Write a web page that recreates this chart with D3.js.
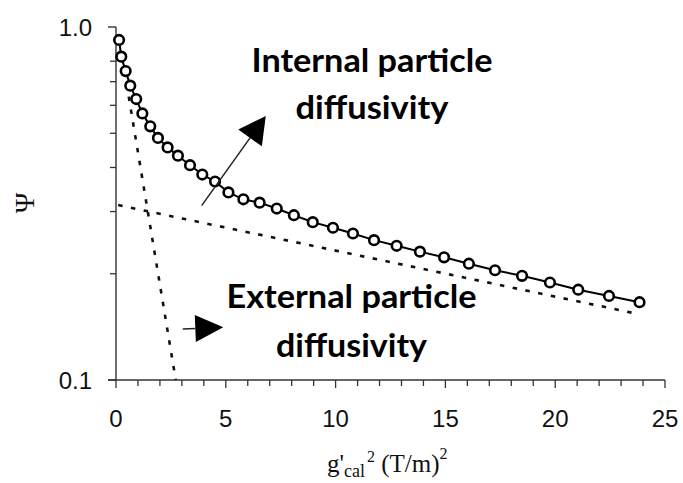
<!DOCTYPE html>
<html>
<head>
<meta charset="utf-8">
<script src="https://cdn.jsdelivr.net/npm/d3@7"></script>
<style>
  html, body { margin: 0; padding: 0; background: #fff; }
  svg { display: block; }
</style>
</head>
<body>
<svg id="chart" width="683" height="483"></svg>
<script>
// ---- data ----
const gSquared = [0.14, 0.24, 0.44, 0.65, 0.92, 1.20, 1.56, 1.91, 2.35, 2.82, 3.37, 3.93,
  4.51, 5.12, 5.80, 6.54, 7.32, 8.10, 8.96, 9.88, 10.79, 11.75, 12.78, 13.84, 14.94,
  16.07, 17.26, 18.49, 19.76, 21.05, 22.45, 23.84];
const psi = [0.919, 0.824, 0.750, 0.682, 0.625, 0.569, 0.523, 0.485, 0.456, 0.432, 0.406, 0.382,
  0.365, 0.340, 0.325, 0.318, 0.306, 0.293, 0.280, 0.270, 0.260, 0.249, 0.240, 0.231, 0.2226,
  0.2135, 0.2046, 0.1973, 0.1889, 0.1802, 0.1730, 0.1661];
// fitted exponential components (straight lines on log axis), [x, psi] end points
const fastComponent = [[0.58, 0.635], [2.72, 0.1]];
const slowComponent = [[0.10, 0.313], [23.63, 0.1545]];
const xTicks = [0, 5, 10, 15, 20, 25];
const xMinorTicks = d3.range(0, 26, 1);
const yMajorTicks = [0.1, 1.0];
const yMinorTicks = [0.2, 0.3, 0.4, 0.5, 0.6, 0.7, 0.8];
const yTickLabels = ["0.1", "1.0"];
const labelInternal = ["Internal particle", "diffusivity"];
const labelExternal = ["External particle", "diffusivity"];
// annotation arrows in data coordinates: [start, tip]
const arrowInternal = [[3.90, 0.3118], [6.82, 0.5597]];
const arrowExternal = [[3.04, 0.1395], [4.886, 0.1410]];

// ---- chart ----
const svg = d3.select("#chart");
const x = d3.scaleLinear().domain([0, 25]).range([116, 665]);
const y = d3.scaleLog().domain([0.1, 1]).range([380, 27]);
const axisColor = "#333";

// X axis
const gx = svg.append("g").attr("transform", `translate(0,${y(0.1)})`);
gx.append("line").attr("x1", x(0) - 8).attr("x2", x(25)).attr("y1", 0).attr("y2", 0)
  .attr("stroke", axisColor).attr("stroke-width", 1.4);
gx.selectAll("line.minor").data(xMinorTicks).enter().append("line")
  .attr("class", "minor")
  .attr("x1", d => x(d)).attr("x2", d => x(d))
  .attr("y1", 0).attr("y2", d => d % 5 === 0 ? 8 : 6)
  .attr("stroke", axisColor).attr("stroke-width", 1.3);
gx.selectAll("text").data(xTicks).enter().append("text")
  .attr("x", d => x(d)).attr("y", 47)
  .attr("text-anchor", "middle")
  .attr("font-family", "Liberation Sans, Arial, sans-serif")
  .attr("font-size", 24)
  .attr("fill", "#111")
  .text(d => d);

// Y axis
const gy = svg.append("g").attr("transform", `translate(${x(0)},0)`);
gy.append("line").attr("x1", 0).attr("x2", 0).attr("y1", y(1)).attr("y2", y(0.1))
  .attr("stroke", axisColor).attr("stroke-width", 1.4);
gy.selectAll("line.major").data(yMajorTicks).enter().append("line")
  .attr("class", "major")
  .attr("x1", -8).attr("x2", 0).attr("y1", d => y(d)).attr("y2", d => y(d))
  .attr("stroke", axisColor).attr("stroke-width", 1.4);
gy.selectAll("line.minor").data(yMinorTicks).enter().append("line")
  .attr("class", "minor")
  .attr("x1", -6).attr("x2", 0).attr("y1", d => y(d)).attr("y2", d => y(d))
  .attr("stroke", axisColor).attr("stroke-width", 1.3);
gy.selectAll("text").data(yMajorTicks).enter().append("text")
  .attr("x", -24).attr("y", d => y(d) + 8.5)
  .attr("text-anchor", "end")
  .attr("font-family", "Liberation Sans, Arial, sans-serif")
  .attr("font-size", 24)
  .attr("fill", "#111")
  .text((d, i) => yTickLabels[i]);

// Y label (rotated Psi)
svg.append("text")
  .attr("transform", "translate(34,203) rotate(-90)")
  .attr("text-anchor", "middle")
  .attr("font-family", "Liberation Serif, Times New Roman, serif")
  .attr("font-size", 28)
  .attr("fill", "#111")
  .text("Ψ");

// X label
const xl = svg.append("text")
  .attr("x", 327).attr("y", 472)
  .attr("font-family", "Liberation Serif, Times New Roman, serif")
  .attr("font-size", 25)
  .attr("fill", "#111");
xl.append("tspan").text("g'");
xl.append("tspan").attr("font-size", 18).attr("dy", 5).text("cal");
xl.append("tspan").attr("font-size", 16).attr("dy", -15).attr("dx", 2).text("2");
xl.append("tspan").attr("dy", 10).text(" (T/m)");
xl.append("tspan").attr("font-size", 16).attr("dy", -13).text("2");

// dashed component lines
const line = d3.line().x(d => x(d[0])).y(d => y(d[1]));
[fastComponent, slowComponent].forEach(seg => {
  svg.append("path").datum(seg)
    .attr("d", line)
    .attr("fill", "none")
    .attr("stroke", "#111")
    .attr("stroke-width", 2.6)
    .attr("stroke-dasharray", "4.5,8.5");
});

// data line + circles
const pts = gSquared.map((g, i) => [g, psi[i]]);
svg.append("path").datum(pts)
  .attr("d", line)
  .attr("fill", "none")
  .attr("stroke", "#000")
  .attr("stroke-width", 2);
svg.selectAll("circle.pt").data(pts).enter().append("circle")
  .attr("class", "pt")
  .attr("cx", d => x(d[0])).attr("cy", d => y(d[1]))
  .attr("r", 4.8)
  .attr("fill", "#fff")
  .attr("stroke", "#000")
  .attr("stroke-width", 2.6);

// arrows
function drawArrow(a, headLen, headWidth) {
  const x0 = x(a[0][0]), y0 = y(a[0][1]), x1 = x(a[1][0]), y1 = y(a[1][1]);
  const dx = x1 - x0, dy = y1 - y0, L = Math.hypot(dx, dy);
  const ux = dx / L, uy = dy / L, nx = -uy, ny = ux;
  const bx = x1 - ux * headLen, by = y1 - uy * headLen;
  svg.append("line").attr("x1", x0).attr("y1", y0).attr("x2", bx).attr("y2", by)
    .attr("stroke", "#222").attr("stroke-width", 1.5);
  svg.append("path")
    .attr("d", `M${x1},${y1}L${bx + nx * headWidth / 2},${by + ny * headWidth / 2}L${bx - nx * headWidth / 2},${by - ny * headWidth / 2}Z`)
    .attr("fill", "#000");
}
drawArrow(arrowInternal, 27, 29);
drawArrow(arrowExternal, 28, 27);

// annotation labels
function drawLabel(lines, cx, baselines, widths) {
  lines.forEach((t, i) => {
    svg.append("text")
      .attr("x", cx).attr("y", baselines[i])
      .attr("text-anchor", "middle")
      .attr("font-family", "Lato, Open Sans, sans-serif")
      .attr("font-weight", 700)
      .attr("font-size", 33)
      .attr("textLength", widths[i])
      .attr("lengthAdjust", "spacingAndGlyphs")
      .attr("fill", "#000")
      .text(t);
  });
}
drawLabel(labelInternal, 372, [72, 119], [241, 153]);
drawLabel(labelExternal, 351.5, [308, 356.5], [250, 151]);
</script>
</body>
</html>
